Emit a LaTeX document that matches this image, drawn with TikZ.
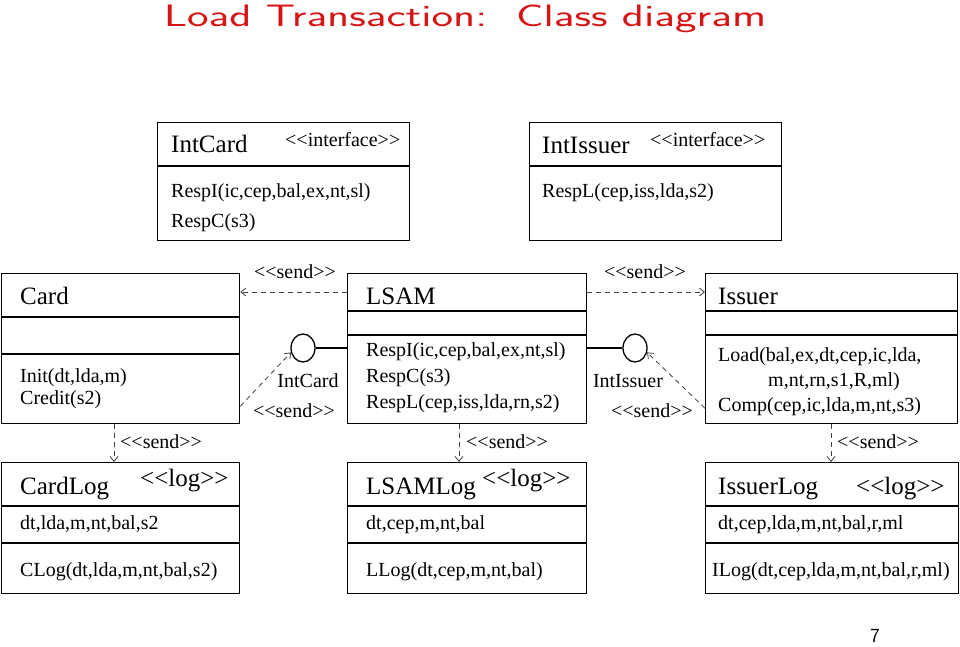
\documentclass[tikz,border=0pt]{standalone}
\usepackage{fontspec}
\setmainfont{Liberation Serif}
\usetikzlibrary{arrows.meta,shapes.geometric}
\definecolor{titlered}{RGB}{215,20,20}
\newcommand\stereo[1]{<\kern0pt<#1>\kern0pt>}
\begin{document}
\begin{tikzpicture}[x=1pt,y=-1pt,
  cls/.style={draw, line width=1.3pt, inner sep=0pt, anchor=north west},
  divider/.style={line width=1.3pt},
  txt/.style={anchor=base west, inner sep=0pt, font=\fontsize{20}{24}\selectfont},
  ttl/.style={anchor=base west, inner sep=0pt, font=\fontsize{25}{30}\selectfont},
  lbl/.style={anchor=base, inner sep=0pt, font=\fontsize{20}{24}\selectfont},
  iface/.style={draw, ellipse, line width=1.3pt, minimum width=24pt, minimum height=28pt, inner sep=0pt},
  sendarrow/.style={draw=black!75, line width=0.8pt, dash pattern=on 5pt off 4pt,
    -{Straight Barb[length=5pt,width=8pt]}}
]
\useasboundingbox (0,0) rectangle (960,647);

% title
\node[font=\sffamily\fontsize{31}{36}\selectfont, text=titlered] (title) at (465,19)
  {\scalebox{1.48}[1]{Load Transaction:\ \ Class diagram}};

% interface boxes
\node[cls, minimum width=252pt, minimum height=118pt] (intcard) at (157,122) {};
\draw[divider] (intcard.west |- 0,166) -- (intcard.east |- 0,166);
\node[ttl] (intcardT) at (171,153) {IntCard};
\node[txt] (intcardS) at (285,147) {\stereo{interface}};
\node[txt] (intcardM1) at (171,197) {RespI(ic,cep,bal,ex,nt,sl)};
\node[txt] (intcardM2) at (171,227) {RespC(s3)};

\node[cls, minimum width=252pt, minimum height=118pt] (intissuer) at (529,122) {};
\draw[divider] (intissuer.west |- 0,166) -- (intissuer.east |- 0,166);
\node[ttl] (intissuerT) at (542,154) {IntIssuer};
\node[txt] (intissuerS) at (650,147) {\stereo{interface}};
\node[txt] (intissuerM1) at (542,197) {RespL(cep,iss,lda,s2)};

% main classes
\node[cls, minimum width=238pt, minimum height=150pt] (card) at (1,273) {};
\draw[divider] (card.west |- 0,317) -- (card.east |- 0,317);
\draw[divider] (card.west |- 0,354) -- (card.east |- 0,354);
\node[ttl] (cardT) at (20,304) {Card};
\node[txt] (cardM1) at (20,382) {Init(dt,lda,m)};
\node[txt] (cardM2) at (20,404) {Credit(s2)};

\node[cls, minimum width=239pt, minimum height=150pt] (lsam) at (347,273) {};
\draw[divider] (lsam.west |- 0,311) -- (lsam.east |- 0,311);
\draw[divider] (lsam.west |- 0,335) -- (lsam.east |- 0,335);
\node[ttl] (lsamT) at (366,304) {LSAM};
\node[txt] (lsamM1) at (366,356) {RespI(ic,cep,bal,ex,nt,sl)};
\node[txt] (lsamM2) at (366,382) {RespC(s3)};
\node[txt] (lsamM3) at (366,408) {RespL(cep,iss,lda,rn,s2)};

\node[cls, minimum width=252pt, minimum height=150pt] (issuer) at (705,273) {};
\draw[divider] (issuer.west |- 0,311) -- (issuer.east |- 0,311);
\draw[divider] (issuer.west |- 0,335) -- (issuer.east |- 0,335);
\node[ttl] (issuerT) at (718,304) {Issuer};
\node[txt] (issuerM1) at (718,361) {Load(bal,ex,dt,cep,ic,lda,};
\node[txt] (issuerM2) at (768,386) {m,nt,rn,s1,R,ml)};
\node[txt] (issuerM3) at (718,411) {Comp(cep,ic,lda,m,nt,s3)};

% log classes
\node[cls, minimum width=238pt, minimum height=131pt] (cardlog) at (1,462) {};
\draw[divider] (cardlog.west |- 0,506) -- (cardlog.east |- 0,506);
\draw[divider] (cardlog.west |- 0,543) -- (cardlog.east |- 0,543);
\node[ttl] (cardlogT) at (20,494) {CardLog};
\node[ttl] (cardlogS) at (140,486) {\stereo{log}};
\node[txt] (cardlogA) at (20,529) {dt,lda,m,nt,bal,s2};
\node[txt] (cardlogM) at (20,576) {CLog(dt,lda,m,nt,bal,s2)};

\node[cls, minimum width=239pt, minimum height=131pt] (lsamlog) at (347,462) {};
\draw[divider] (lsamlog.west |- 0,506) -- (lsamlog.east |- 0,506);
\draw[divider] (lsamlog.west |- 0,543) -- (lsamlog.east |- 0,543);
\node[ttl] (lsamlogT) at (366,494) {LSAMLog};
\node[ttl] (lsamlogS) at (482,486) {\stereo{log}};
\node[txt] (lsamlogA) at (366,529) {dt,cep,m,nt,bal};
\node[txt] (lsamlogM) at (366,576) {LLog(dt,cep,m,nt,bal)};

\node[cls, minimum width=253pt, minimum height=131pt] (issuerlog) at (705,462) {};
\draw[divider] (issuerlog.west |- 0,506) -- (issuerlog.east |- 0,506);
\draw[divider] (issuerlog.west |- 0,543) -- (issuerlog.east |- 0,543);
\node[ttl] (issuerlogT) at (718,494) {IssuerLog};
\node[ttl] (issuerlogS) at (856,494) {\stereo{log}};
\node[txt] (issuerlogA) at (718,529) {dt,cep,lda,m,nt,bal,r,ml};
\node[txt] (issuerlogM) at (712,576) {ILog(dt,cep,lda,m,nt,bal,r,ml)};

% interface lollipops
\node[iface] (icard) at (303,348) {};
\draw[divider] (icard.east) -- (icard.east -| lsam.west);
\node[lbl] (icardL) at (308,387) {IntCard};
\node[lbl] (icardS) at (294,417) {\stereo{send}};

\node[iface] (iissuer) at (635,348) {};
\draw[divider] (iissuer.west) -- (iissuer.west -| lsam.east);
\node[lbl] (iissuerL) at (628,387) {IntIssuer};
\node[lbl] (iissuerS) at (652,417) {\stereo{send}};

% send dependencies
\draw[sendarrow] ([yshift=-19pt]lsam.north west) -- ([yshift=-19pt]card.north east);
\node[lbl] (s1) at (295,278) {\stereo{send}};
\draw[sendarrow] ([yshift=-19pt]lsam.north east) -- ([yshift=-19pt]issuer.north west);
\node[lbl] (s2) at (645,278) {\stereo{send}};

\draw[sendarrow] ([yshift=18pt]card.south east) -- (icard.200);
\draw[sendarrow] ([yshift=16pt]issuer.south west) -- (iissuer.-20);

\draw[sendarrow] ([xshift=113pt]card.south west) -- ([xshift=113pt]cardlog.north west);
\node[txt] (s3) at (120,448) {\stereo{send}};
\draw[sendarrow] ([xshift=112pt]lsam.south west) -- ([xshift=112pt]lsamlog.north west);
\node[txt] (s4) at (466,448) {\stereo{send}};
\draw[sendarrow] ([xshift=126pt]issuer.south west) -- ([xshift=126pt]issuerlog.north west);
\node[txt] (s5) at (837,448) {\stereo{send}};

% page number
\node[font=\sffamily\fontsize{20}{24}\selectfont] (page) at (875,636) {7};
\end{tikzpicture}
\end{document}
